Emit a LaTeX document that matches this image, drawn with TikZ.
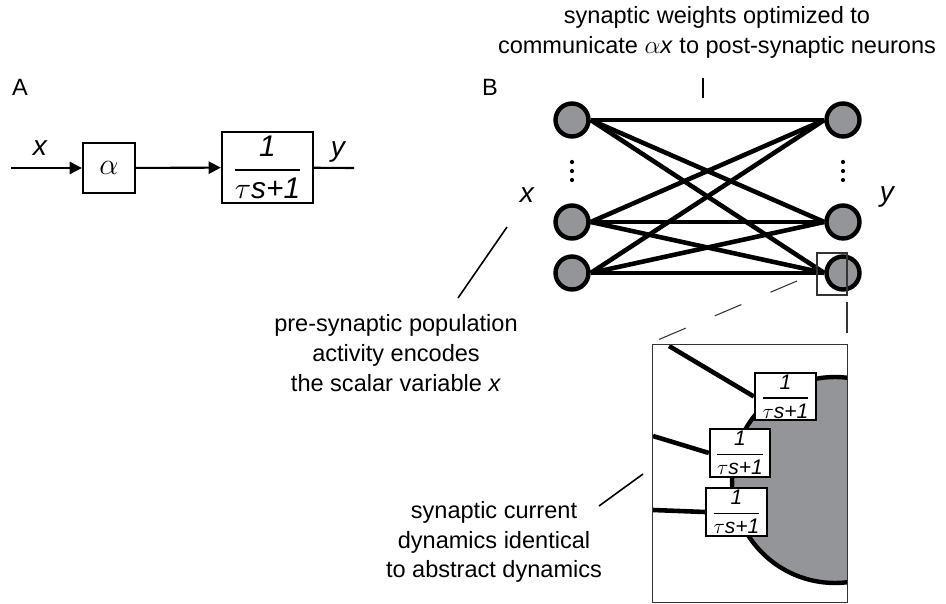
\documentclass[tikz,border=0pt]{standalone}
\usepackage{amsmath}
\usepackage{fontspec}
\setmainfont{Liberation Sans}
\usepackage{tikz}
\usetikzlibrary{arrows.meta,positioning}
\usepackage[dvipsnames,svgnames]{xcolor}
\definecolor{cellgray}{RGB}{147,149,152}

% first-order low-pass block
\newcommand{\lowpass}{$\genfrac{}{}{0.9pt}{0}{\textit{1}}{\tau\textit{s+1}}$}

\begin{document}
\begin{tikzpicture}[x=0.02cm,y=-0.02cm,
    note/.style={font=\fontsize{13.4}{17}\selectfont,align=center},
    var/.style={font=\fontsize{16}{18}\selectfont\itshape},
    blk/.style={draw,line width=1.3pt,fill=white,inner sep=0pt},
    neuron/.style={circle,draw,line width=2.5pt,fill=cellgray,minimum size=0.66cm,inner sep=0pt},
    wire/.style={line width=1.2pt},
    syn/.style={line width=2.6pt},
    pointer/.style={line width=0.9pt},
    proj/.style={line width=0.6pt,black!80},
    tip/.style={-{Triangle[length=7pt,width=7pt]}}]

    \useasboundingbox (0,0) rectangle (946,604);

    % panel A: gain then low-pass filter
    \node[note] (labA) at (20,87) {A};
    \coordinate (in) at (11,168);
    \node[blk,minimum width=1.04cm,minimum height=1cm,font=\fontsize{17}{18}\selectfont] (gain) at (109,168) {$\alpha$};
    \node[blk,minimum width=1.82cm,minimum height=1.42cm,font=\fontsize{17}{18}\selectfont] (filt) at (267.5,167.5) {\lowpass};
    \coordinate (out) at (354,168);
    \draw[wire,tip] (in) -- (gain);
    \draw[wire,tip] (gain) -- (filt);
    \draw[wire] (filt) -- (out);
    \node[var] (xa) at (40,148) {x};
    \node[var] (ya) at (338,152) {y};

    % panel B: two populations, all-to-all weights
    \node[note] (labB) at (490,87) {B};
    \node[note] (title) at (717,32) {synaptic weights optimized to\\communicate $\alpha$\textit{x} to post-synaptic neurons};
    \coordinate (tickT) at (703,78);
    \coordinate (tickB) at (703,98);
    \draw[wire] (tickT) -- (tickB);

    \foreach \n/\y in {1/120,2/222,3/273} {
        \node[neuron] (pre\n) at (572,\y) {};
        \node[neuron] (post\n) at (843,\y) {};
    }
    \foreach \i in {1,2,3}
        \foreach \j in {1,2,3}
            \draw[syn] (pre\i.east) -- (post\j.west);

    % dots for the omitted neurons
    \foreach \y in {162,171,180} {
        \fill (572,\y) circle (1.2pt);
        \fill (843,\y) circle (1.2pt);
    }
    \node[var] (xb) at (527,195) {x};
    \node[var] (yb) at (887,197) {y};

    % annotation for the input population
    \node[note] (prenote) at (396,353) {pre-synaptic population\\activity encodes\\the scalar variable \textit{x}};
    \coordinate (preA) at (458,298);
    \coordinate (preB) at (507,227);
    \draw[pointer] (preA) -- (preB);

    % magnified view of one post-synaptic neuron
    \node[draw,proj,inner sep=0pt,minimum width=0.6cm,minimum height=0.84cm] (lens) at (832,274) {};
    \node[proj,inner sep=0pt,minimum width=3.88cm,minimum height=5.14cm] (inset) at (750,473.5) {};
    \coordinate (dA) at (797,281);
    \coordinate (dB) at (653,342);
    \draw[proj,dash pattern=on 16.4pt off 18pt] (dA) -- (dB);
    \coordinate (vA) at (847,302);
    \coordinate (vB) at (847,333);
    \draw[proj] (vA) -- (vB);

    \begin{scope}
        \clip (653,345) rectangle (847,602);
        \draw[line width=2.5pt,fill=cellgray] (835,480) circle[radius=2.06cm];
    \end{scope}

    \node[blk,minimum width=1.22cm,minimum height=0.94cm,font=\fontsize{12}{13}\selectfont] (f1) at (785.5,396.5) {\lowpass};
    \node[blk,minimum width=1.2cm,minimum height=0.96cm,font=\fontsize{12}{13}\selectfont] (f2) at (740,453) {\lowpass};
    \node[blk,minimum width=1.22cm,minimum height=0.96cm,font=\fontsize{12}{13}\selectfont] (f3) at (736.5,512) {\lowpass};
    \coordinate (s1) at (669,346);
    \coordinate (s2) at (653,436);
    \coordinate (s3) at (653,510);
    \draw[syn] (s1) -- (f1.west);
    \draw[syn] (s2) -- (f2.west);
    \draw[syn] (s3) -- (f3.west);
    \draw[proj] (inset.north west) rectangle (inset.south east);

    % annotation for the synaptic filter
    \node[note] (synnote) at (494,542) {synaptic current\\dynamics identical\\to abstract dynamics};
    \coordinate (synA) at (599,506);
    \coordinate (synB) at (643,474);
    \draw[pointer] (synA) -- (synB);

\end{tikzpicture}
\end{document}
